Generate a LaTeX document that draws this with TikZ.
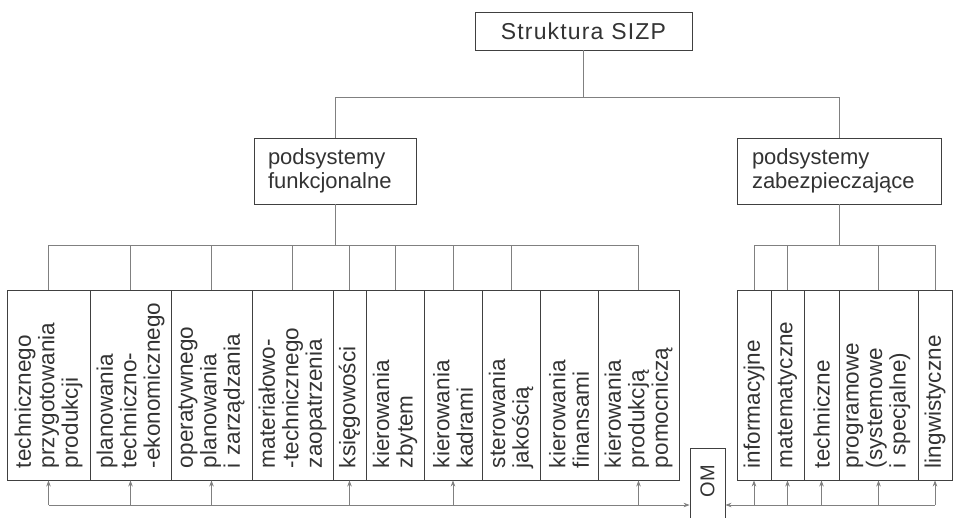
\documentclass[tikz,border=0pt]{standalone}
\usepackage{fontspec}
\setmainfont{Liberation Sans}
\usetikzlibrary{arrows.meta}
\begin{document}
\begin{tikzpicture}[x=1pt,y=-1pt,
  box/.style={draw=black!75, line width=0.9pt, text=black!80},
  colbox/.style={box, rotate=90, minimum width=190pt, text width=166pt,
    inner xsep=12pt, inner ysep=0pt, align=left,
    font=\fontsize{22.5}{23.5}\selectfont},
  conn/.style={draw=black!50, line width=0.7pt},
  arr/.style={conn, -{Stealth[length=6pt,width=4.5pt]}}]
\useasboundingbox (0,0) rectangle (953,517);
\clip (0,0) rectangle (953,517);

% top level
\node[box, minimum width=217pt, minimum height=38pt,
  font=\fontsize{23}{26}\selectfont\addfontfeature{LetterSpace=5}] (top) at (583.5,31) {Struktura\hspace{8pt}SIZP};

\node[box, minimum width=162pt, minimum height=66pt, text width=134pt,
  inner xsep=14pt, align=left, font=\fontsize{22}{24}\selectfont] (func) at (335,171) {podsystemy\\funkcjonalne};
\node[box, minimum width=204pt, minimum height=66pt, text width=174pt,
  inner xsep=15pt, align=left, font=\fontsize{22}{24}\selectfont] (zab) at (839,171) {podsystemy\\zabezpieczające};

% functional subsystems
\node[colbox, minimum height=83pt] (c1) at (48.5,385) {technicznego\\przygotowania\\produkcji};
\node[colbox, minimum height=81pt] (c2) at (130.5,385) {planowania\\techniczno-\\-ekonomicznego};
\node[colbox, minimum height=81pt] (c3) at (211.5,385) {operatywnego\\planowania\\i zarządzania};
\node[colbox, minimum height=81pt] (c4) at (292.5,385) {materiałowo-\\-technicznego\\zaopatrzenia};
\node[colbox, minimum height=33pt] (c5) at (349.5,385) {księgowości};
\node[colbox, minimum height=58pt] (c6) at (395,385) {kierowania\\zbytem};
\node[colbox, minimum height=58pt] (c7) at (453,385) {kierowania\\kadrami};
\node[colbox, minimum height=58pt] (c8) at (511,385) {sterowania\\jakością};
\node[colbox, minimum height=58pt] (c9) at (569,385) {kierowania\\finansami};
\node[colbox, minimum height=81pt] (c10) at (638.5,385) {kierowania\\produkcją\\pomocniczą};

% supporting subsystems
\node[colbox, minimum height=34pt] (r1) at (754,385) {informacyjne};
\node[colbox, minimum height=33pt] (r2) at (787.5,385) {matematyczne};
\node[colbox, minimum height=35pt] (r3) at (821.5,385) {techniczne};
\node[colbox, minimum height=79pt] (r4) at (878.5,385) {programowe\\(systemowe\\i specjalne)};
\node[colbox, minimum height=34pt] (r5) at (935,385) {lingwistyczne};

% OM box
\node[box, minimum width=35pt, minimum height=82pt] (om) at (707.5,489) {};
\node[rotate=90, text=black!80, inner sep=0pt, font=\fontsize{20}{22}\selectfont] (omt) at (707.5,481) {OM};

% bus coordinates
\coordinate (b1) at (0,97);
\coordinate (b2) at (0,245);
\coordinate (b3) at (0,505);

% top connectors
\draw[conn] (top.south) -- (top.south |- b1);
\draw[conn] (func.north) -- (func.north |- b1) -- (zab.north |- b1) -- (zab.north);

% left group connectors
\draw[conn] (func.south) -- (func.south |- b2);
\draw[conn] (c1.east |- b2) -- (c10.east |- b2);
\foreach \c in {c1,c2,c3,c4,c5,c6,c7,c8,c10}
  \draw[conn] (\c.east |- b2) -- (\c.east);

% right group connectors
\draw[conn] (zab.south) -- (zab.south |- b2);
\draw[conn] (r1.east |- b2) -- (r5.east |- b2);
\foreach \c in {r1,r2,r4,r5}
  \draw[conn] (\c.east |- b2) -- (\c.east);

% bottom bus with arrows
\draw[arr] (c1.west |- b3) -- (om.west |- b3);
\draw[arr] (r5.west |- b3) -- (om.east |- b3);
\foreach \c in {c1,c2,c3,c5,c7,c10,r1,r2,r3,r4,r5}
  \draw[arr] (\c.west |- b3) -- (\c.west);
\end{tikzpicture}
\end{document}
